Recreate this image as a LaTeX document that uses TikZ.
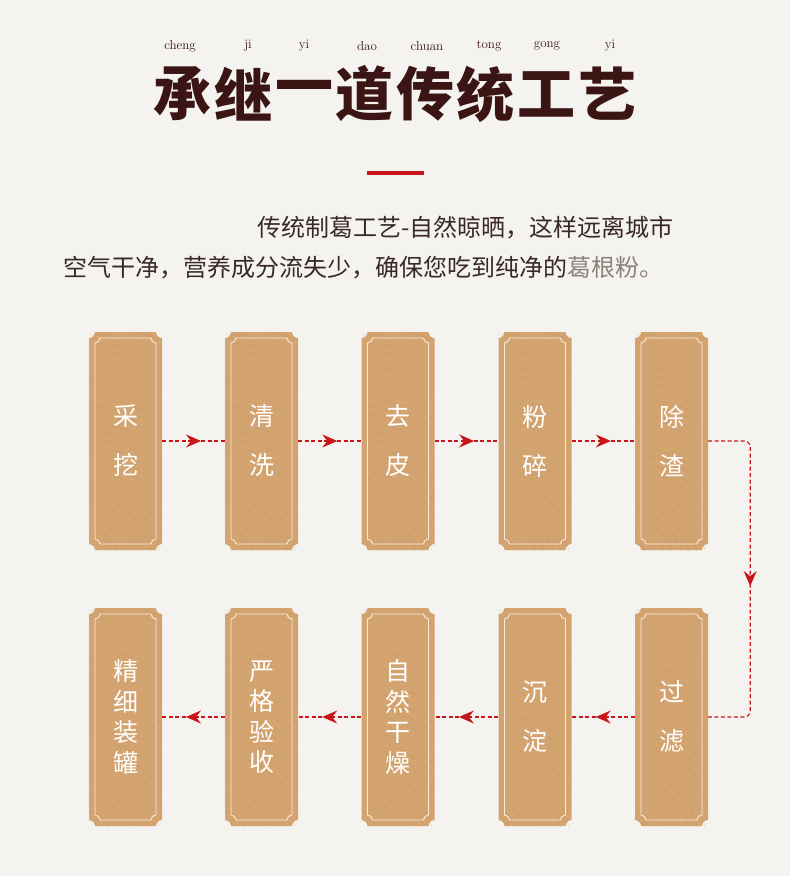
\documentclass[tikz,border=0pt]{standalone}
\usepackage{fontspec}
\newfontfamily\cjk{Noto Sans CJK SC}
\usetikzlibrary{arrows.meta,decorations.markings}
\definecolor{paper}{HTML}{F4F3EF}
\definecolor{inkbrown}{HTML}{3B1414}
\definecolor{textbrown}{HTML}{3A2828}
\definecolor{softbrown}{HTML}{8E817A}
\definecolor{sealred}{HTML}{C8161D}
\definecolor{woodtan}{HTML}{D4A470}
\definecolor{woodline}{HTML}{B5824F}
% notched outline around the path picture centre: half width, half height, notch
\newcommand\notchpath[3]{([shift={(-#1,#2-#3)}]path picture bounding box.center) arc[start angle=270,end angle=360,radius=#3] -- ([shift={(#1-#3,#2)}]path picture bounding box.center) arc[start angle=180,end angle=270,radius=#3] -- ([shift={(#1,-#2+#3)}]path picture bounding box.center) arc[start angle=90,end angle=180,radius=#3] -- ([shift={(-#1+#3,-#2)}]path picture bounding box.center) arc[start angle=0,end angle=90,radius=#3] -- cycle}
\tikzset{
  plate/.style={minimum width=73pt,minimum height=218pt,inner sep=0pt,text=white,align=center,
    font=\cjk\fontsize{25}{49}\selectfont,
    path picture={
      \fill[woodtan] \notchpath{36.5}{109}{6};
      \foreach \r in {8,16,...,250} \draw[woodline,opacity=.3,line width=.4pt] ([shift={(-45,-125)}]path picture bounding box.center) circle[radius=\r];
      \draw[white!80!woodtan,line width=.9pt] \notchpath{30.5}{103}{5};
    }},
  tallplate/.style={plate,font=\cjk\fontsize{25}{30.5}\selectfont},
  flow/.style={draw=sealred,line width=1.1pt,dash pattern=on 4pt off 2.5pt,postaction={decorate},
    decoration={markings,mark=at position #1 with {\arrow[sealred]{Stealth[length=15pt,width=13pt,inset=5pt]}}}},
  flow/.default=0.62,
  pinyin/.style={font=\fontsize{13}{14}\selectfont,text=inkbrown},
  titlechar/.style={font=\cjk\bfseries\fontsize{58}{60}\selectfont,text=inkbrown,inner sep=0pt},
  para/.style={font=\cjk\fontsize{24}{30}\selectfont,text=textbrown,anchor=west,inner sep=0pt},
}
\begin{document}
\begin{tikzpicture}[x=1pt,y=1pt]
\fill[paper] (0,0) rectangle (790,-876);
\useasboundingbox (0,0) rectangle (790,-876);
% heading
\foreach \x/\py [count=\i] in {180/cheng,248/ji,304/yi,367/dao,427/chuan,489/tong,547/gong,610/yi}
  \node[pinyin] (py\i) at (\x,-46) {\py};
\foreach \x/\ch [count=\i] in {182/承,243/继,304/一,364/道,425/传,485/统,546/工,607/艺}
  \node[titlechar] (t\i) at (\x,-94) {\ch};
\fill[sealred] (367,-171) rectangle (424,-174.5);
\node[para] (line1) at (257,-228) {传统制葛工艺-自然晾晒，这样远离城市};
\node[para] (line2) at (63,-268) {空气干净，营养成分流失少，确保您吃到纯净的\textcolor{softbrown}{葛根粉。}};
% steps
\node[plate] (p1) at (125.5,-441) {采\\挖};
\node[plate] (p2) at (261.5,-441) {清\\洗};
\node[plate] (p3) at (398,-441) {去\\皮};
\node[plate] (p4) at (535,-441) {粉\\碎};
\node[plate] (p5) at (671.5,-441) {除\\渣};
\node[plate] (p6) at (671.5,-717) {过\\滤};
\node[plate] (p7) at (535,-717) {沉\\淀};
\node[tallplate] (p8) at (398,-717) {自\\然\\干\\燥};
\node[tallplate] (p9) at (261.5,-717) {严\\格\\验\\收};
\node[tallplate] (p10) at (125.5,-717) {精\\细\\装\\罐};
\draw[flow] (p1) -- (p2);
\draw[flow] (p2) -- (p3);
\draw[flow] (p3) -- (p4);
\draw[flow] (p4) -- (p5);
\draw[flow=0.52,rounded corners=6pt] (p5.east) -- ++(42,0) |- (p6.east);
\draw[flow] (p6) -- (p7);
\draw[flow] (p7) -- (p8);
\draw[flow] (p8) -- (p9);
\draw[flow] (p9) -- (p10);
\end{tikzpicture}
\end{document}
